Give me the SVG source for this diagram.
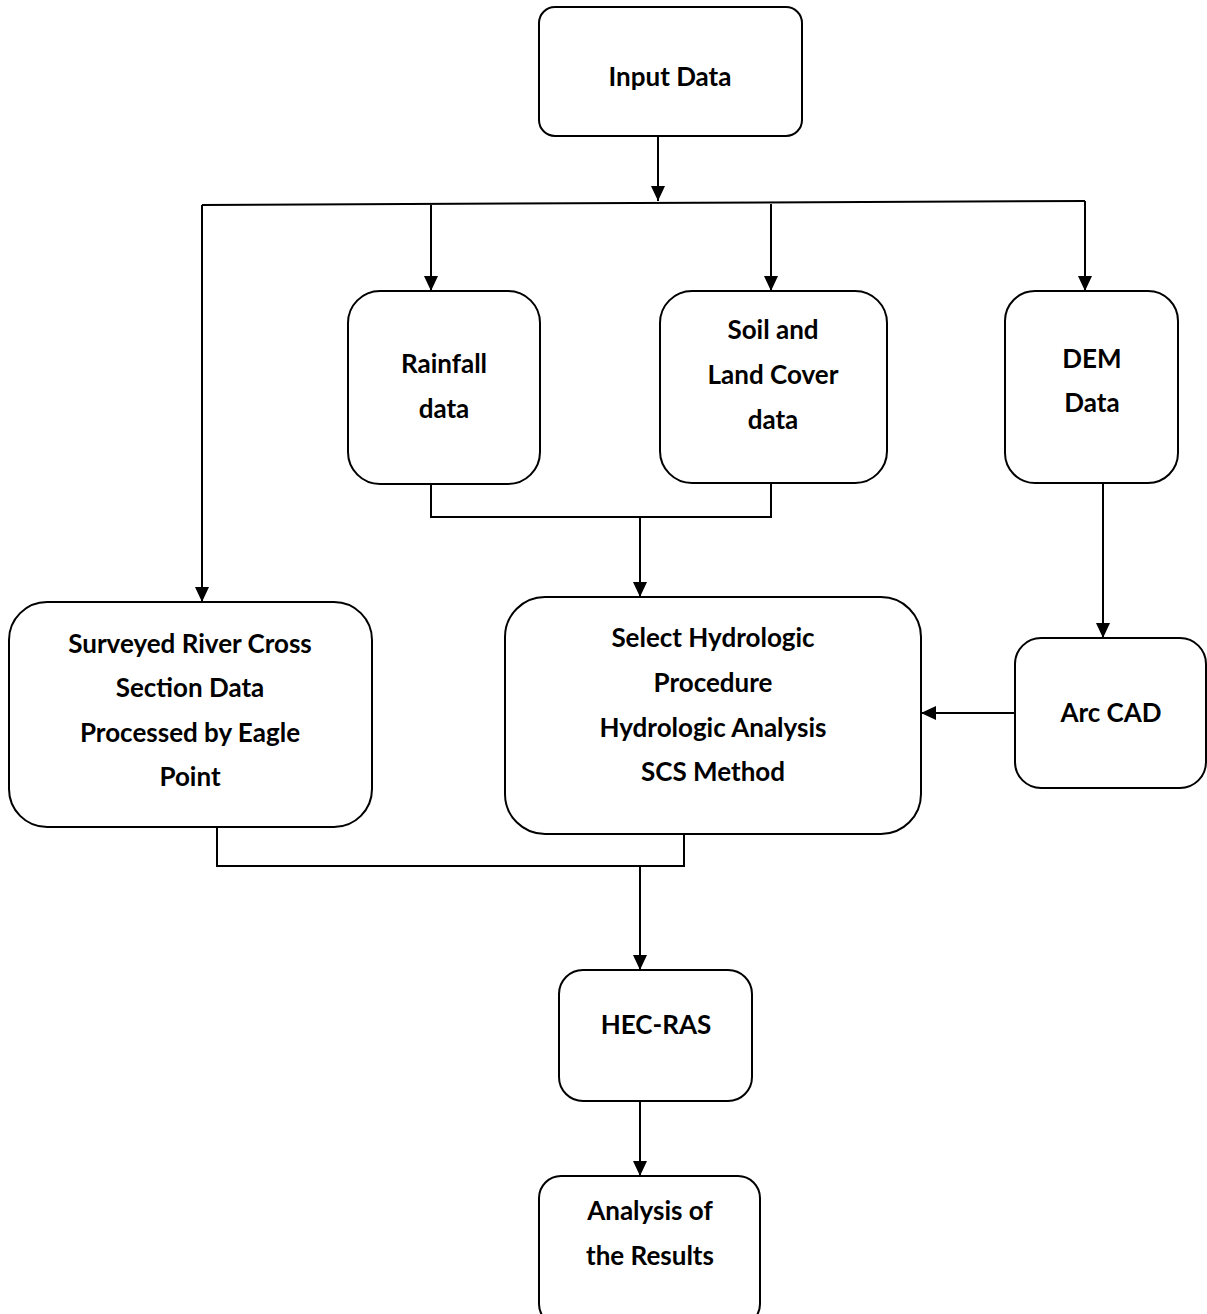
<svg xmlns="http://www.w3.org/2000/svg" width="1207" height="1314" viewBox="0 0 1207 1314">
<defs>
<marker id="ah" viewBox="0 0 15 14" refX="15" refY="7" markerWidth="15" markerHeight="14" markerUnits="userSpaceOnUse" orient="auto">
<path d="M0,0 L15,7 L0,14 Z" fill="#000"/>
</marker>
<style>
.box{fill:#fff;stroke:#000;stroke-width:2}
.ln{fill:none;stroke:#000;stroke-width:2}
.ar{fill:none;stroke:#000;stroke-width:2;marker-end:url(#ah)}
text{font-family:Lato,"Liberation Sans",sans-serif;font-weight:bold;font-size:26px;text-anchor:middle;dominant-baseline:central;fill:#000}
</style>
</defs>
<rect width="1207" height="1314" fill="#fff"/>
<g id="connectors">
<path class="ar" d="M658,136 V201"/>
<path class="ln" d="M202,205 L1085,201"/>
<path class="ar" d="M202,205 V602"/>
<path class="ar" d="M431,205 V291"/>
<path class="ar" d="M771,204 V291"/>
<path class="ar" d="M1085,201 V291"/>
<path class="ln" d="M431,484 V517 H771 V484"/>
<path class="ar" d="M640,517 V597"/>
<path class="ar" d="M1103,483 V638"/>
<path class="ar" d="M1015,713 H921"/>
<path class="ln" d="M217,827 V866 H684 V834"/>
<path class="ar" d="M640,866 V970"/>
<path class="ar" d="M640,1101 V1176"/>
</g>
<g id="input-data">
<rect class="box" x="539" y="7" width="263" height="129" rx="16"/>
<text x="670" y="76">Input Data</text>
</g>
<g id="rainfall">
<rect class="box" x="348" y="291" width="192" height="193" rx="32"/>
<text x="444" y="363">Rainfall</text>
<text x="444" y="408">data</text>
</g>
<g id="soil">
<rect class="box" x="660" y="291" width="227" height="192" rx="32"/>
<text x="773" y="329">Soil and</text>
<text x="773" y="374">Land Cover</text>
<text x="773" y="419">data</text>
</g>
<g id="dem">
<rect class="box" x="1005" y="291" width="173" height="192" rx="30"/>
<text x="1092" y="358">DEM</text>
<text x="1092" y="402">Data</text>
</g>
<g id="surveyed">
<rect class="box" x="9" y="602" width="363" height="225" rx="38"/>
<text x="190" y="643">Surveyed River Cross</text>
<text x="190" y="687">Section Data</text>
<text x="190" y="732">Processed by Eagle</text>
<text x="190" y="776">Point</text>
</g>
<g id="select">
<rect class="box" x="505" y="597" width="416" height="237" rx="40"/>
<text x="713" y="637">Select Hydrologic</text>
<text x="713" y="682">Procedure</text>
<text x="713" y="727">Hydrologic Analysis</text>
<text x="713" y="771">SCS Method</text>
</g>
<g id="arccad">
<rect class="box" x="1015" y="638" width="191" height="150" rx="26"/>
<text x="1111" y="712">Arc CAD</text>
</g>
<g id="hecras">
<rect class="box" x="559" y="970" width="193" height="131" rx="24"/>
<text x="656" y="1024">HEC-RAS</text>
</g>
<g id="analysis">
<rect class="box" x="539" y="1176" width="221" height="150" rx="22"/>
<text x="650" y="1210">Analysis of</text>
<text x="650" y="1255">the Results</text>
</g>
</svg>
